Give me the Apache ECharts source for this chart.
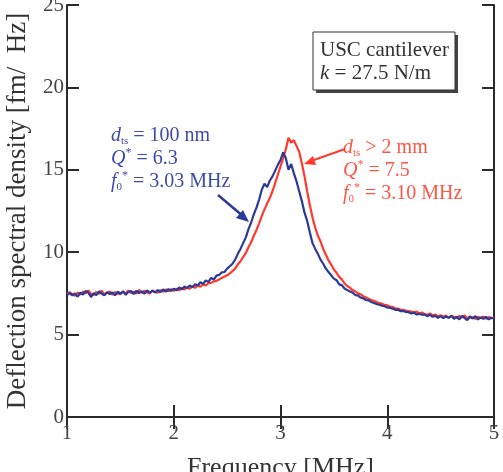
<!DOCTYPE html>
<html><head><meta charset="utf-8">
<script src="https://cdn.jsdelivr.net/npm/echarts@6/dist/echarts.min.js"></script>
<style>html,body{margin:0;padding:0;background:#fff}#c{width:503px;height:472px}</style>
</head><body><div id="c"></div>
<script>
const freq = [1.000,1.025,1.050,1.075,1.100,1.125,1.150,1.175,1.200,1.225,1.250,1.275,1.300,1.325,1.350,1.375,1.400,1.425,1.450,1.475,
1.500,1.525,1.550,1.575,1.600,1.625,1.650,1.675,1.700,1.725,1.750,1.775,1.800,1.825,1.850,1.875,1.900,1.925,1.950,1.975,
2.000,2.025,2.050,2.075,2.100,2.125,2.150,2.175,2.200,2.225,2.250,2.275,2.300,2.325,2.350,2.375,2.400,2.425,2.450,2.475,
2.500,2.525,2.550,2.575,2.600,2.625,2.650,2.675,2.700,2.725,2.750,2.775,2.800,2.825,2.850,2.875,2.900,2.925,2.950,2.975,
3.000,3.025,3.050,3.075,3.100,3.125,3.150,3.175,3.200,3.225,3.250,3.275,3.300,3.325,3.350,3.375,3.400,3.425,3.450,3.475,
3.500,3.525,3.550,3.575,3.600,3.625,3.650,3.675,3.700,3.725,3.750,3.775,3.800,3.825,3.850,3.875,3.900,3.925,3.950,3.975,
4.000,4.025,4.050,4.075,4.100,4.125,4.150,4.175,4.200,4.225,4.250,4.275,4.300,4.325,4.350,4.375,4.400,4.425,4.450,4.475,
4.500,4.525,4.550,4.575,4.600,4.625,4.650,4.675,4.700,4.725,4.750,4.775,4.800,4.825,4.850,4.875,4.900,4.925,4.950,4.975,5.000];

// d_ts = 100 nm (blue)
const blueNear = [7.40,7.52,7.38,7.50,7.30,7.55,7.42,7.65,7.55,7.28,7.52,7.40,7.62,7.48,7.38,7.58,7.46,7.56,7.38,7.60,
7.48,7.62,7.42,7.58,7.64,7.46,7.66,7.52,7.62,7.48,7.68,7.54,7.66,7.56,7.70,7.58,7.74,7.60,7.76,7.66,
7.78,7.68,7.86,7.74,7.92,7.82,7.98,7.88,8.06,7.98,8.18,8.08,8.28,8.20,8.44,8.34,8.58,8.62,8.78,8.80,
9.00,9.15,9.30,9.55,9.90,10.20,10.55,10.90,11.40,11.80,12.30,12.70,13.20,13.80,14.15,13.95,14.35,14.60,14.95,15.30,
15.60,16.05,15.70,15.00,15.35,14.80,14.30,13.70,13.10,12.40,11.90,11.20,10.55,10.20,9.90,9.55,9.30,9.00,8.80,8.60,
8.40,8.30,8.05,8.00,7.80,7.70,7.62,7.55,7.40,7.38,7.25,7.20,7.10,7.08,6.98,6.92,6.85,6.82,6.75,6.72,
6.65,6.62,6.58,6.50,6.52,6.42,6.44,6.38,6.36,6.28,6.34,6.22,6.26,6.20,6.22,6.12,6.20,6.08,6.14,6.02,
6.12,6.00,6.10,6.02,6.14,5.96,6.08,5.92,6.14,6.00,5.88,6.08,5.98,6.12,5.92,6.04,5.96,6.08,5.92,6.02,5.98];

// d_ts > 2 mm (red)
const redFar = [7.45,7.58,7.46,7.36,7.56,7.44,7.60,7.50,7.68,7.46,7.40,7.58,7.48,7.66,7.44,7.52,7.62,7.42,7.58,7.48,
7.46,7.60,7.50,7.68,7.52,7.60,7.48,7.72,7.54,7.66,7.56,7.50,7.68,7.58,7.54,7.70,7.60,7.74,7.62,7.76,
7.66,7.78,7.68,7.84,7.74,7.86,7.78,7.92,7.84,7.98,7.90,8.06,7.98,8.12,8.14,8.22,8.26,8.34,8.44,8.52,
8.60,8.72,8.85,9.00,9.25,9.45,9.70,9.95,10.30,10.60,11.00,11.35,11.75,12.20,12.60,12.95,13.30,13.70,14.20,14.70,
15.20,15.70,16.25,16.95,16.65,16.80,16.45,16.10,15.40,14.60,13.70,12.85,12.10,11.50,11.00,10.65,10.20,9.85,9.50,9.25,
8.95,8.75,8.50,8.35,8.10,7.95,7.85,7.70,7.62,7.50,7.45,7.32,7.25,7.18,7.10,7.05,6.98,6.92,6.88,6.80,
6.78,6.70,6.68,6.60,6.58,6.52,6.50,6.45,6.42,6.40,6.35,6.40,6.28,6.34,6.24,6.20,6.28,6.16,6.22,6.10,
6.18,6.08,6.16,6.02,6.14,6.08,6.00,6.14,6.04,6.16,5.98,6.10,6.04,5.96,6.08,6.00,6.10,5.96,6.06,6.00,6.02];

const xTicks = [1,2,3,4,5];
const yTicks = [0,5,10,15,20,25];

const FONT = '"Liberation Serif", "DejaVu Serif", serif';
const BLUE = '#2a3a98';
const RED = '#ff3a2c';
const BLUE_TXT = '#3d4ca6';
const RED_TXT = '#ff5544';
const AX = '#2b2b2b';

const chart = echarts.init(document.getElementById('c'), null, {renderer:'canvas'});

function pairs(xs, ys){ return xs.map((x,i)=>[x, ys[i]]); }

const axisCommon = {
  axisLine:{show:true, lineStyle:{color:AX, width:2}},
  axisTick:{show:true, inside:true, length:12, lineStyle:{color:AX, width:2}},
  splitLine:{show:false}
};

const richBase = (color) => ({
  n:{fontFamily:FONT, fontSize:20, fill:color, lineHeight:23},
  i:{fontFamily:FONT, fontSize:20, fontStyle:'italic', fill:color, lineHeight:23},
  sub:{fontFamily:FONT, fontSize:11, fill:color, lineHeight:23, verticalAlign:'bottom'},
  sup:{fontFamily:FONT, fontSize:12, fill:color, lineHeight:23, verticalAlign:'top'}
});

chart.setOption({
  animation:false,
  backgroundColor:'#fff',
  grid:{left:67, right:9, top:5, bottom:55, containLabel:false, outerBoundsMode:'none'},
  xAxis:[
    Object.assign({type:'value', min:xTicks[0], max:xTicks[xTicks.length-1], interval:1, position:'bottom',
      name:'Frequency [MHz]', nameLocation:'middle', nameGap:38, nameMoveOverlap:false,
      nameTextStyle:{fontFamily:FONT, fontSize:26, color:'#333'},
      axisLabel:{fontFamily:FONT, fontSize:21, color:'#444', margin:6}}, axisCommon),
    Object.assign({type:'value', min:xTicks[0], max:xTicks[xTicks.length-1], interval:1, position:'top',
      axisLabel:{show:false}}, axisCommon)
  ],
  yAxis:[
    Object.assign({type:'value', min:yTicks[0], max:yTicks[yTicks.length-1], interval:5, position:'left',
      name:'Deflection spectral density [fm/  Hz]', nameLocation:'middle', nameGap:36, nameRotate:90,
      nameTextStyle:{fontFamily:FONT, fontSize:27, color:'#333'},
      axisLabel:{fontFamily:FONT, fontSize:21, color:'#444', margin:3}}, axisCommon),
    Object.assign({type:'value', min:yTicks[0], max:yTicks[yTicks.length-1], interval:5, position:'right',
      axisLabel:{show:false}}, axisCommon)
  ],
  series:[
    {type:'line', name:'d_ts > 2 mm', data:pairs(freq, redFar), showSymbol:false, symbol:'none',
      lineStyle:{color:RED, width:2.2}, z:2},
    {type:'line', name:'d_ts = 100 nm', data:pairs(freq, blueNear), showSymbol:false, symbol:'none',
      lineStyle:{color:BLUE, width:2.2}, z:3}
  ],
  graphic:[
    {type:'rect', shape:{x:316, y:35, width:142, height:58}, style:{fill:'#444'}, z:10},
    {type:'rect', shape:{x:313, y:32, width:142, height:58}, style:{fill:'#fff', stroke:'#333', lineWidth:1}, z:11},
    {type:'text', x:320, y:40, z:12, style:{text:'USC cantilever', font:'21px ' + FONT, fill:'#333'}},
    {type:'text', x:320, y:63, z:12, style:{
      text:'{i|k}{n| = 27.5 N/m}',
      rich:{i:{fontFamily:FONT, fontSize:21, fontStyle:'italic', fill:'#333'},
            n:{fontFamily:FONT, fontSize:21, fill:'#333'}}}},
    {type:'text', x:111, y:124, z:12, style:{
      text:'{i|d}{sub|ts}{n| = 100 nm}\n{i|Q}{sup|*}{n| = 6.3}\n{i|f}{sub|0}{sup|*}{n| = 3.03 MHz}',
      rich:richBase(BLUE_TXT)}},
    {type:'text', x:343, y:136, z:12, style:{
      text:'{i|d}{sub|ts}{n| > 2 mm}\n{i|Q}{sup|*}{n| = 7.5}\n{i|f}{sub|0}{sup|*}{n| = 3.10 MHz}',
      rich:richBase(RED_TXT)}},
    {type:'line', shape:{x1:218, y1:195, x2:244, y2:217}, style:{stroke:BLUE, lineWidth:2.5}, z:12},
    {type:'polygon', shape:{points:[[249,222],[236,218],[243,210]]}, style:{fill:BLUE}, z:12},
    {type:'line', shape:{x1:345, y1:149, x2:311, y2:161}, style:{stroke:RED, lineWidth:2}, z:12},
    {type:'polygon', shape:{points:[[304,164],[313,156],[316,165]]}, style:{fill:RED}, z:12}
  ]
});
</script></body></html>
